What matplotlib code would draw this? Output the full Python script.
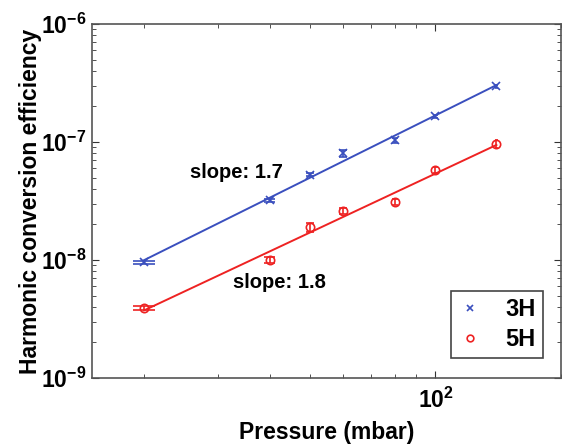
import numpy as np
import matplotlib
matplotlib.use("Agg")
import matplotlib.pyplot as plt
from matplotlib.ticker import LogLocator, FuncFormatter, NullFormatter

plt.rcParams['font.family'] = ['Liberation Sans', 'DejaVu Sans']
plt.rcParams['font.weight'] = 'bold'
plt.rcParams['mathtext.fontset'] = 'custom'
plt.rcParams['mathtext.rm'] = 'Liberation Sans:bold'
plt.rcParams['mathtext.bf'] = 'Liberation Sans:bold'

# pressure in mbar
pressure = [20, 40, 50, 60, 80, 100, 140]

# 3H harmonic efficiency and errors
eff_3h = [9.6e-9, 3.2e-8, 5.3e-8, 8.0e-8, 1.04e-7, 1.65e-7, 2.98e-7]
err_3h = [0.3e-9, 1.2e-9, 1.6e-9, 5e-9, 5e-9, 5e-9, 9e-9]

# 5H harmonic efficiency and errors
eff_5h = [3.9e-9, 1.0e-8, 1.9e-8, 2.6e-8, 3.1e-8, 5.8e-8, 9.6e-8]
err_5h = [0.15e-9, 0.5e-9, 1.6e-9, 1.5e-9, 1.8e-9, 3e-9, 7e-9]

y_major = [1e-9, 1e-8, 1e-7, 1e-6]
x_major = [100]

series = [("3H", eff_3h, err_3h, '#3a4fbe', 'x'),
          ("5H", eff_5h, err_5h, '#ee2222', 'o')]
slopes = ["slope: 1.7", "slope: 1.8"]

W, H = 563, 446
fig = plt.figure(figsize=(W / 100, H / 100), dpi=100)
ax = fig.add_axes([92 / W, (H - 378) / H, (561 - 92) / W, (378 - 24) / H])

x = np.array(pressure, dtype=float)
tee = (x.max() - x.min()) / 100  # matlab style cap half-width, data units

for label, y, e, col, mk in series:
    y = np.array(y)
    e = np.array(e)
    # error bars with caps
    ax.vlines(x, y - e, y + e, color=col, lw=1.2)
    ax.hlines(y - e, x - tee, x + tee, color=col, lw=1.2)
    ax.hlines(y + e, x - tee, x + tee, color=col, lw=1.2)
    if mk == 'o':
        ax.plot(x, y, ls='none', marker=mk, ms=6, mfc='none', mec=col, mew=1.2, label=label)
    else:
        ax.plot(x, y, ls='none', marker=mk, ms=6, color=col, mew=1.2, label=label)
    p = np.polyfit(np.log10(x), np.log10(y), 1)
    xf = np.array([x.min(), x.max()])
    ax.plot(xf, 10 ** np.polyval(p, np.log10(xf)), color=col, lw=1.4)

ax.set_xscale('log')
ax.set_yscale('log')
ax.set_xlim(15, 200)
ax.set_ylim(1e-9, 1e-6)

ax.set_yticks(y_major)
ax.set_xticks(x_major)
ax.yaxis.set_minor_locator(LogLocator(base=10, subs=np.arange(2, 10), numticks=20))
ax.xaxis.set_minor_locator(LogLocator(base=10, subs=np.arange(2, 10), numticks=20))
fmt = FuncFormatter(lambda v, pos: r'$\mathbf{10^{%d}}$' % int(round(np.log10(v))))
ax.yaxis.set_major_formatter(fmt)
ax.xaxis.set_major_formatter(fmt)
ax.xaxis.set_minor_formatter(NullFormatter())
ax.yaxis.set_minor_formatter(NullFormatter())

ax.tick_params(which='both', direction='in', top=True, right=True, colors='#333333',
               labelcolor='black', labelsize=16.5)
ax.tick_params(which='major', length=5)
ax.tick_params(which='minor', length=3)
ax.tick_params(axis='x', pad=7)
ax.tick_params(axis='y', pad=4)
for s in ax.spines.values():
    s.set_color('#555555')
    s.set_linewidth(1.2)

ax.set_xlabel("Pressure (mbar)", fontsize=16.5, fontweight='bold', labelpad=6)
ax.set_ylabel("Harmonic conversion efficiency", fontsize=16.5, fontweight='bold')
ax.yaxis.set_label_coords((42 - 92) / (561 - 92), 0.5)

fig.text(190 / W, 1 - 173 / H, slopes[0], fontsize=14.5, fontweight='bold', va='center', ha='left')
fig.text(233 / W, 1 - 283 / H, slopes[1], fontsize=14.5, fontweight='bold', va='center', ha='left')

leg = ax.legend(loc='lower right', bbox_to_anchor=(543 / W, (H - 358) / H),
                bbox_transform=fig.transFigure, fancybox=False, framealpha=1,
                edgecolor='#444444', fontsize=17, handlelength=1.0, handletextpad=1.0,
                borderpad=0.3, labelspacing=0.3, markerscale=0.8, borderaxespad=0)
leg.get_frame().set_linewidth(1.2)
for t in leg.get_texts():
    t.set_fontweight('bold')

fig.savefig("out.png", dpi=100)
